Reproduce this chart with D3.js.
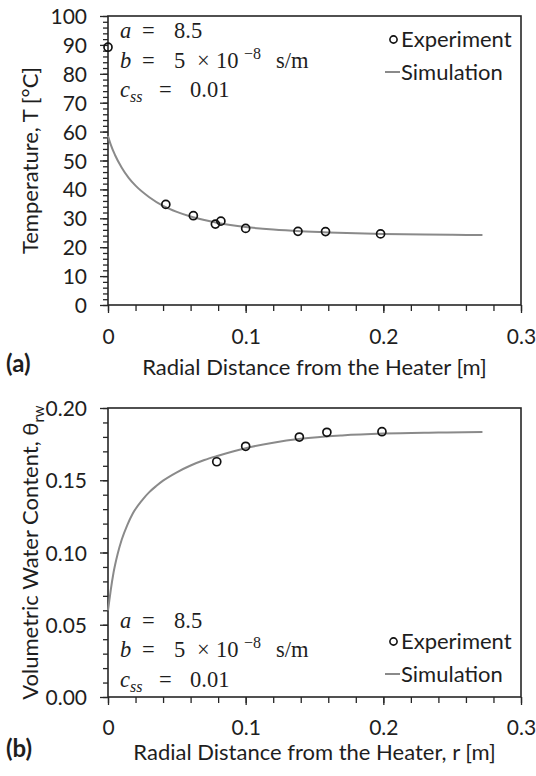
<!DOCTYPE html>
<html>
<head>
<meta charset="utf-8">
<script src="https://cdn.jsdelivr.net/npm/d3@7"></script>
<style>
  body { margin: 0; background: #fff; }
  text { font-family: Lato, "Open Sans", sans-serif; fill: #1e1e1e; }
  .math { font-family: "Liberation Serif", "DejaVu Serif", serif; }
</style>
</head>
<body>
<div id="chart"></div>
<script>
// ---- data ----
// (a) temperature
const tempExpR = [0, 0.042, 0.062, 0.078, 0.082, 0.100, 0.138, 0.158, 0.198];
const tempExpT = [89.2, 34.8, 30.9, 28.0, 29.0, 26.5, 25.5, 25.4, 24.6];
const tempSimR = [0, 0.002, 0.005, 0.01, 0.015, 0.02, 0.03, 0.04, 0.05, 0.06, 0.07, 0.08, 0.1, 0.12, 0.14, 0.16, 0.18, 0.2, 0.23, 0.25, 0.272];
const tempSimT = [58.5, 55.5, 52, 47.5, 44, 41.3, 37.3, 34.3, 32.2, 30.6, 29.4, 28.4, 27.0, 26.1, 25.5, 25.1, 24.8, 24.6, 24.4, 24.3, 24.2];

// (b) volumetric water content
const waterExpR = [0.079, 0.100, 0.139, 0.159, 0.199];
const waterExpW = [0.1628, 0.1735, 0.1799, 0.1832, 0.1836];
const waterSimR = [0, 0.001, 0.002, 0.004, 0.007, 0.01, 0.014, 0.018, 0.025, 0.03, 0.035, 0.04, 0.05, 0.06, 0.07, 0.08, 0.1, 0.12, 0.14, 0.17, 0.2, 0.24, 0.272];
const waterSimW = [0.060, 0.067, 0.074, 0.086, 0.099, 0.109, 0.119, 0.127, 0.1365, 0.1418, 0.146, 0.1497, 0.1555, 0.1602, 0.164, 0.167, 0.1722, 0.176, 0.1787, 0.1810, 0.1823, 0.1830, 0.1834];

// ticks
const xTicks = [0, 0.1, 0.2, 0.3];
const xMinorTicks = d3.range(0, 0.3001, 0.02);
const tempTicks = [0, 10, 20, 30, 40, 50, 60, 70, 80, 90, 100];
const tempMinorTicks = d3.range(0, 100.01, 2);
const waterTicks = [0, 0.05, 0.10, 0.15, 0.20];
const waterMinorTicks = d3.range(0, 0.2001, 0.01);

const svg = d3.select("#chart").append("svg")
  .attr("width", 536)
  .attr("height", 776);

const left = 108, right = 521;
const tickFont = 21;
const labelFont = 22;

function drawPanel(p) {
  const g = svg.append("g");

  const x = d3.scaleLinear().domain([0, 0.3]).range([left, right]);
  const y = d3.scaleLinear().domain(p.yDomain).range([p.bottom, p.top]);

  // minor ticks first
  g.append("g")
    .attr("transform", `translate(0,${p.bottom})`)
    .call(d3.axisBottom(x).tickValues(xMinorTicks).tickSize(6).tickFormat(""))
    .call(a => a.select(".domain").remove());
  g.append("g")
    .attr("transform", `translate(${left},0)`)
    .call(d3.axisLeft(y).tickValues(p.yMinor).tickSize(5).tickFormat(""))
    .call(a => a.select(".domain").remove());

  // x axis
  const xa = g.append("g")
    .attr("transform", `translate(0,${p.bottom})`)
    .call(d3.axisBottom(x).tickValues(xTicks).tickSize(8).tickSizeOuter(0)
      .tickFormat(d => d === 0 ? "0" : d.toFixed(1)));
  xa.selectAll(".tick text")
    .attr("y", p.xTickBase - p.bottom).attr("dy", 0)
    .style("font-size", tickFont + "px").style("font-family", null);

  // y axis
  const ya = g.append("g")
    .attr("transform", `translate(${left},0)`)
    .call(d3.axisLeft(y).tickValues(p.yTicks).tickSize(8).tickPadding(13).tickSizeOuter(0)
      .tickFormat(p.yFormat));
  ya.selectAll(".tick text")
    .attr("dy", "0.36em")
    .style("font-size", tickFont + "px").style("font-family", null);

  g.selectAll(".tick line").attr("stroke", "#262626").attr("stroke-width", 1.3);
  g.selectAll(".domain").remove();

  // frame
  g.append("rect")
    .attr("x", left).attr("y", p.top)
    .attr("width", right - left).attr("height", p.bottom - p.top)
    .attr("fill", "none").attr("stroke", "#262626").attr("stroke-width", 1.6);

  // simulation line
  const line = d3.line().curve(d3.curveMonotoneX).x(d => x(d[0])).y(d => y(d[1]));
  g.append("path")
    .datum(d3.zip(p.simX, p.simY))
    .attr("d", line)
    .attr("fill", "none")
    .attr("stroke", "#8a8a8a")
    .attr("stroke-width", 2);

  // experiment points
  g.selectAll("circle.exp")
    .data(d3.zip(p.expX, p.expY))
    .join("circle")
    .attr("class", "exp")
    .attr("cx", d => x(d[0]))
    .attr("cy", d => y(d[1]))
    .attr("r", 4)
    .attr("fill", "none")
    .attr("stroke", "#111")
    .attr("stroke-width", 1.7);

  // axis titles
  g.append("text")
    .attr("x", (left + right) / 2)
    .attr("y", p.xTitleBase)
    .attr("text-anchor", "middle")
    .style("font-size", labelFont + "px")
    .text(p.xLabel);

  const yl = g.append("text")
    .attr("transform", `translate(${p.yTitleX},${(p.top + p.bottom) / 2}) rotate(-90)`)
    .attr("text-anchor", "middle")
    .style("font-size", labelFont + "px");
  yl.append("tspan").text(p.yLabel);
  if (p.yLabelSub) {
    yl.append("tspan").attr("dy", 6).style("font-size", "15px").text(p.yLabelSub);
  }

  // panel letter
  g.append("text")
    .attr("x", 6).attr("y", p.letterBase)
    .style("font-size", "24px").style("font-weight", "bold")
    .text(p.letter);

  // legend
  const lg = g.append("g");
  lg.append("circle")
    .attr("cx", 393.5).attr("cy", p.legendBase1 - 7.5)
    .attr("r", 3.6).attr("fill", "none").attr("stroke", "#111").attr("stroke-width", 1.6);
  lg.append("text").attr("x", 401).attr("y", p.legendBase1)
    .style("font-size", labelFont + "px").text("Experiment");
  lg.append("line")
    .attr("x1", 385).attr("x2", 400)
    .attr("y1", p.legendBase2 - 8).attr("y2", p.legendBase2 - 8)
    .attr("stroke", "#8a8a8a").attr("stroke-width", 2);
  lg.append("text").attr("x", 401).attr("y", p.legendBase2)
    .style("font-size", labelFont + "px").text("Simulation");

  // parameter annotations
  const m = g.append("g").style("font-size", "22.5px");
  const [b1, b2, b3] = p.mathBase;
  const t1 = m.append("text").attr("class", "math").attr("y", b1);
  t1.append("tspan").attr("x", 120).style("font-style", "italic").text("a");
  t1.append("tspan").attr("x", 142).text("=");
  t1.append("tspan").attr("x", 174).text("8.5");

  const t2 = m.append("text").attr("class", "math").attr("y", b2);
  t2.append("tspan").attr("x", 120).style("font-style", "italic").text("b");
  t2.append("tspan").attr("x", 142).text("=");
  t2.append("tspan").attr("x", 174).text("5");
  t2.append("tspan").attr("x", 197).text("×");
  t2.append("tspan").attr("x", 216).text("10");
  t2.append("tspan").attr("x", 244).attr("dy", -9).style("font-size", "16px").text("−8");
  t2.append("tspan").attr("x", 276).attr("dy", 9).text("s/m");

  const t3 = m.append("text").attr("class", "math").attr("y", b3);
  t3.append("tspan").attr("x", 120).style("font-style", "italic").text("c");
  t3.append("tspan").attr("x", 130).attr("dy", 5).style("font-style", "italic").style("font-size", "16px").text("ss");
  t3.append("tspan").attr("x", 159).attr("dy", -5).text("=");
  t3.append("tspan").attr("x", 190).text("0.01");
}

drawPanel({
  top: 16, bottom: 305,
  yDomain: [0, 100], yTicks: tempTicks, yMinor: tempMinorTicks,
  yFormat: d3.format("d"),
  expX: tempExpR, expY: tempExpT, simX: tempSimR, simY: tempSimT,
  xTickBase: 344, xTitleBase: 375, letterBase: 372,
  xLabel: "Radial Distance from the Heater [m]",
  yLabel: "Temperature, T [°C]", yTitleX: 38,
  letter: "(a)",
  legendBase1: 47, legendBase2: 80,
  mathBase: [38, 68, 97]
});

drawPanel({
  top: 408, bottom: 697,
  yDomain: [0, 0.2], yTicks: waterTicks, yMinor: waterMinorTicks,
  yFormat: d3.format(".2f"),
  expX: waterExpR, expY: waterExpW, simX: waterSimR, simY: waterSimW,
  xTickBase: 735, xTitleBase: 760, letterBase: 757,
  xLabel: "Radial Distance from the Heater, r [m]",
  yLabel: "Volumetric Water Content, θ", yLabelSub: "rw", yTitleX: 38,
  letter: "(b)",
  legendBase1: 649, legendBase2: 682,
  mathBase: [628, 657, 687]
});
</script>
</body>
</html>
